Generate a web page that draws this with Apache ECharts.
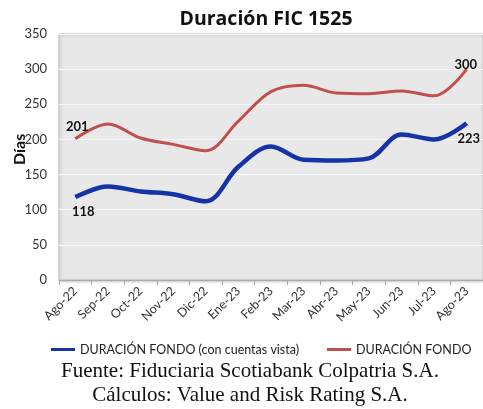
<!DOCTYPE html>
<html><head><meta charset="utf-8">
<script src="https://cdn.jsdelivr.net/npm/echarts@6/dist/echarts.min.js"></script>
<style>html,body{margin:0;padding:0;background:#fff}#c{width:483px;height:409px}</style>
</head><body><div id="c"></div>
<script>
const categories = ['Ago-22','Sep-22','Oct-22','Nov-22','Dic-22','Ene-23','Feb-23','Mar-23','Abr-23','May-23','Jun-23','Jul-23','Ago-23'];
const conCuentasVista = [118,133,126,122,112,161,190,171,170,173,207,200,223];
const duracionFondo = [201,222,202,193,184,226,268,277,266,265,269,262,300];
const yTicks = [0,50,100,150,200,250,300,350];
const seriesNames = ['DURACIÓN FONDO (con cuentas vista)','DURACIÓN FONDO'];

function withEndLabels(arr, firstPos, lastPos){
  return arr.map((v,i)=>{
    if(i===0) return {value:v,label:{show:true,position:firstPos,offset:firstPos==='bottom'?[8,3]:[2,0]}};
    if(i===arr.length-1) return {value:v,label:{show:true,position:lastPos,offset:lastPos==='bottom'?[2,4]:[-1,7]}};
    return {value:v,label:{show:false}};
  });
}
const chart = echarts.init(document.getElementById('c'));
const font = 'Lato, "Open Sans", sans-serif';
const legendBase = {top:343, padding:0, icon:'rect', itemWidth:24, itemHeight:3, textStyle:{fontFamily:font,fontSize:12.5,color:'#222'}};
chart.setOption({
  animation:false,
  title:{text:'Duración FIC 1525',left:261,top:4,textAlign:'center',textStyle:{fontFamily:'"Open Sans", sans-serif',fontSize:19.5,fontWeight:'bold',color:'#111'}},
  graphic:[
    {type:'text',x:250,y:361,style:{text:'Fuente: Fiduciaria Scotiabank Colpatria S.A.',font:'21px "Liberation Serif", serif',fill:'#111',textAlign:'center'}},
    {type:'text',x:250,y:385,style:{text:'Cálculos: Value and Risk Rating S.A.',font:'21px "Liberation Serif", serif',fill:'#111',textAlign:'center'}},
    {type:'text',x:12,y:165,rotation:Math.PI/2,style:{text:'Días',font:'bold 16px Lato, sans-serif',fill:'#111'}}
  ],
  legend:[
    Object.assign({data:[seriesNames[0]], left:51}, legendBase),
    Object.assign({data:[seriesNames[1]], left:327}, legendBase)
  ],
  grid:{left:59,right:0,top:34,height:246,show:true,backgroundColor:'#e8e8e8',borderColor:'#c4c4c4',borderWidth:1,
        shadowColor:'rgba(0,0,0,0.25)',shadowBlur:3,shadowOffsetX:1,shadowOffsetY:1},
  xAxis:{type:'category',data:categories,boundaryGap:true,
    axisLine:{show:true,lineStyle:{color:'#aaa'}},
    axisTick:{show:true,length:5,lineStyle:{color:'#aaa'}},
    axisLabel:{rotate:45,fontFamily:font,fontSize:12.5,color:'#333',margin:9,interval:0}},
  yAxis:{type:'value',min:0,max:350,interval:50,
    axisLine:{show:false},axisTick:{show:false},
    axisLabel:{fontFamily:font,fontSize:13,color:'#333',margin:12,formatter:v=>yTicks.includes(v)?String(v):''},
    splitLine:{show:true,lineStyle:{color:'#f6f6f6',width:1}}},
  series:[
    {name:seriesNames[0],type:'line',smooth:0.35,symbol:'circle',symbolSize:0,showSymbol:true,data:withEndLabels(conCuentasVista,'bottom','bottom'),
     lineStyle:{color:'#1632a8',width:4.5},itemStyle:{color:'#1632a8'},
     label:{fontFamily:font,fontSize:13,fontWeight:'bold',color:'#111'}},
    {name:seriesNames[1],type:'line',smooth:0.35,symbol:'circle',symbolSize:0,showSymbol:true,data:withEndLabels(duracionFondo,'top','top'),
     lineStyle:{color:'#c0504d',width:3},itemStyle:{color:'#c0504d'},
     label:{fontFamily:font,fontSize:13,fontWeight:'bold',color:'#111'}}
  ]
});
</script></body></html>
